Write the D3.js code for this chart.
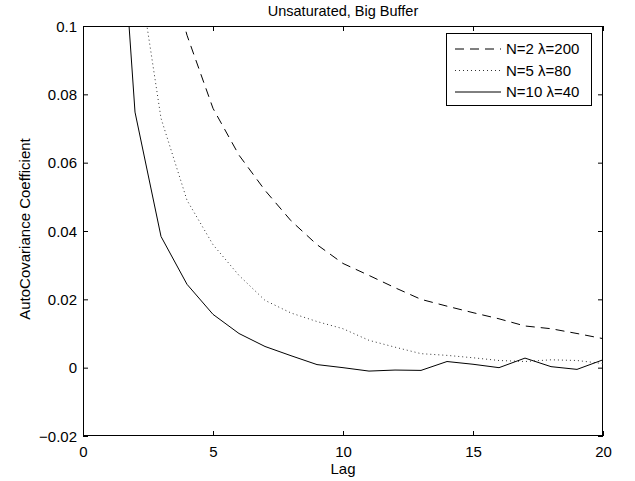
<!DOCTYPE html>
<html><head><meta charset="utf-8">
<script src="https://cdn.jsdelivr.net/npm/d3@7"></script>
<style>
body{margin:0;background:#fff;}
text{font-family:"Liberation Sans",Arial,Helvetica,sans-serif;fill:#000;}
</style></head>
<body>
<svg id="chart" width="635" height="481"></svg>
<script>
const lags = [1,2,3,4,5,6,7,8,9,10,11,12,13,14,15,16,17,18,19,20];
const seriesN2 = [0.25,0.17,0.125,0.0973,0.0759,0.0622,0.0519,0.043,0.036,0.0305,0.027,0.0234,0.020,0.018,0.0161,0.0143,0.0122,0.0114,0.0100,0.0085];
const seriesN5 = [0.25,0.123,0.073,0.049,0.036,0.027,0.0197,0.016,0.0135,0.0114,0.008,0.006,0.0041,0.0036,0.0029,0.0021,0.0018,0.0023,0.0021,0.0012];
const seriesN10 = [0.185,0.0748,0.0384,0.0244,0.0156,0.010,0.0062,0.0035,0.0009,0.0,-0.001,-0.0007,-0.0008,0.0018,0.001,0.0,0.0028,0.0003,-0.0005,0.0023];
const seriesNames = ["N=2 \u03bb=200","N=5 \u03bb=80","N=10 \u03bb=40"];
const xTicks = [0,5,10,15,20];
const yTicks = [-0.02,0,0.02,0.04,0.06,0.08,0.1];
const yTickLabels = ["\u22120.02","0","0.02","0.04","0.06","0.08","0.1"];
const titleText = "Unsaturated, Big Buffer";
const xLabel = "Lag";
const yLabel = "AutoCovariance Coefficient";

const W=635,H=481,m={l:83,r:32,t:26,b:45};
const svg=d3.select("#chart");
const x=d3.scaleLinear().domain([0,20]).range([m.l,W-m.r]);
const y=d3.scaleLinear().domain([-0.02,0.1]).range([H-m.b,m.t]);
const fs=15;

svg.append("defs").append("clipPath").attr("id","clip").append("rect")
  .attr("x",m.l).attr("y",m.t).attr("width",W-m.l-m.r).attr("height",H-m.t-m.b);

const tl=5;
const gB=svg.append("g").attr("transform",`translate(0,${H-m.b})`)
  .call(d3.axisBottom(x).tickValues(xTicks).tickSizeInner(-tl).tickSizeOuter(0).tickPadding(10));
const gT=svg.append("g").attr("transform",`translate(0,${m.t})`)
  .call(d3.axisTop(x).tickValues(xTicks).tickSizeInner(-tl).tickSizeOuter(0).tickFormat(""));
const gL=svg.append("g").attr("transform",`translate(${m.l},0)`)
  .call(d3.axisLeft(y).tickValues(yTicks).tickSizeInner(-tl).tickSizeOuter(0).tickPadding(6)
    .tickFormat((d,i)=>yTickLabels[i]));
const gR=svg.append("g").attr("transform",`translate(${W-m.r},0)`)
  .call(d3.axisRight(y).tickValues(yTicks).tickSizeInner(-tl).tickSizeOuter(0).tickFormat(""));
[gB,gT,gL,gR].forEach(g=>{
  g.select(".domain").remove();
  g.selectAll("line").attr("stroke","#000").attr("stroke-width",1);
  g.selectAll("text").attr("font-size",fs).attr("font-family",null);
});
gB.selectAll("text").attr("dy","0.71em");
gL.selectAll("text").attr("dy","0.35em");

svg.append("rect").attr("x",m.l+0.5).attr("y",m.t+0.5)
  .attr("width",W-m.l-m.r-1).attr("height",H-m.t-m.b-1)
  .attr("fill","none").attr("stroke","#000").attr("stroke-width",1);

const styles=[{dash:"9,6",c:"#000"},{dash:"1,3",c:"#333"},{dash:null,c:"#000"}];
const data=[seriesN2,seriesN5,seriesN10];
const line=d3.line().x((d,i)=>x(lags[i])).y(d=>y(d));
const gLines=svg.append("g").attr("clip-path","url(#clip)");
data.forEach((s,k)=>{
  gLines.append("path").datum(s).attr("d",line).attr("fill","none")
    .attr("stroke",styles[k].c).attr("stroke-width",1)
    .attr("stroke-dasharray",styles[k].dash);
});

const lg=svg.append("g");
lg.append("rect").attr("x",446.5).attr("y",33.5).attr("width",145).attr("height",72)
  .attr("fill","#fff").attr("stroke","#000").attr("stroke-width",1);
seriesNames.forEach((n,k)=>{
  const yy=49+k*21.5;
  lg.append("line").attr("x1",455).attr("x2",501).attr("y1",yy).attr("y2",yy)
    .attr("stroke",styles[k].c).attr("stroke-width",1).attr("stroke-dasharray",styles[k].dash);
  lg.append("text").attr("x",506).attr("y",yy).attr("dy","0.35em").attr("font-size",fs).text(n);
});

svg.append("text").attr("x",(m.l+W-m.r)/2).attr("y",16).attr("text-anchor","middle")
  .attr("font-size",14.5).text(titleText);
svg.append("text").attr("x",(m.l+W-m.r)/2).attr("y",474).attr("text-anchor","middle")
  .attr("font-size",fs).text(xLabel);
svg.append("text").attr("transform",`translate(30,${(m.t+H-m.b)/2-2}) rotate(-90)`)
  .attr("text-anchor","middle").attr("font-size",fs).text(yLabel);
</script>
</body></html>
